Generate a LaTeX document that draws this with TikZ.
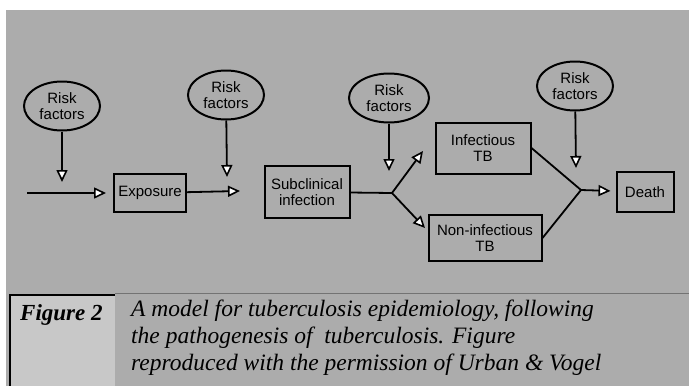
\documentclass[tikz,border=0pt]{standalone}
\usepackage{fontspec}
\setmainfont{Liberation Serif}
\setsansfont{Liberation Sans}
\usetikzlibrary{arrows.meta,shapes.geometric}
\definecolor{scan}{RGB}{172,172,172}
\definecolor{scanlight}{RGB}{200,200,200}

\begin{document}
\begin{tikzpicture}[x=1pt, y=-1pt,
  box/.style={draw, line width=2pt, fill=scan, align=center, inner sep=2pt,
    font=\sffamily\fontsize{15}{16}\selectfont},
  risk/.style={ellipse, draw, line width=2pt, fill=scan, align=center, inner sep=0pt,
    minimum width=76pt, minimum height=49pt, font=\sffamily\fontsize{15}{16}\selectfont},
  flow/.style={-{Triangle[open, fill=white, length=12pt, width=11pt, line width=1.6pt]}, line width=1.8pt},
  link/.style={line width=1.8pt}]
  \useasboundingbox (0,0) rectangle (689,386);
  \fill[scan] (6,10) rectangle (689,386);
  \fill[scanlight] (10,295) rectangle (115,386);
  \draw[line width=0.8pt, black!55] (115,293) -- (689,293);
  \draw[line width=2.5pt] (10,386) -- (10,295) -- (115,295);

  \node[risk] (risk1) at (62,106) {Risk\\factors};
  \node[risk] (risk2) at (226,95) {Risk\\factors};
  \node[risk, minimum width=80pt] (risk3) at (389,98) {Risk\\factors};
  \node[risk] (risk4) at (575,86) {Risk\\factors};

  \node[box, minimum width=72pt, minimum height=38pt] (expo) at (150,193) {Exposure};
  \node[box, minimum width=85pt, minimum height=52pt] (sub) at (307,192) {Subclinical\\infection};
  \node[box, minimum width=95pt, minimum height=51pt] (inf) at (483,148) {Infectious\\TB};
  \node[box, minimum width=113pt, minimum height=46pt] (noninf) at (485,238) {Non-infectious\\TB};
  \node[box, minimum width=57pt, minimum height=40pt] (death) at (645,192) {Death};

  \coordinate (start) at (27,193);
  \coordinate (j1) at (240,191);
  \coordinate (j2) at (392,193);
  \coordinate (j3) at (581,190);
  \coordinate (r1) at (62,182);
  \coordinate (r2) at (227,177);
  \coordinate (r3) at (389,171);
  \coordinate (r4) at (576,168);
  \coordinate (up) at (423,151);
  \coordinate (down) at (425,228);

  \path[flow]
  (start) edge[shorten >=7pt] (expo)
  (expo) edge (j1)
  (risk1) edge (r1)
  (risk2) edge (r2)
  (risk3) edge (r3)
  (risk4) edge (r4)
  (j2) edge (up)
  (j2) edge (down)
  (j3) edge[shorten >=5pt] (death)
  ;
  \path[link]
  (sub) edge (j2)
  (inf.east) edge (j3)
  (noninf.east) edge (j3)
  ;

  \node[anchor=base west, inner sep=0pt, font=\bfseries\itshape\fontsize{23}{23}\selectfont]
    (figlabel) at (20,320) {Figure 2};
  \node[anchor=north west, inner sep=0pt, align=left, font=\itshape\fontsize{23.5}{27}\selectfont]
    (caption) at (131,300) {A model for tuberculosis epidemiology, following\\
    the pathogenesis of \ tuberculosis. Figure\\
    reproduced with the permission of Urban \& Vogel};
\end{tikzpicture}
\end{document}
